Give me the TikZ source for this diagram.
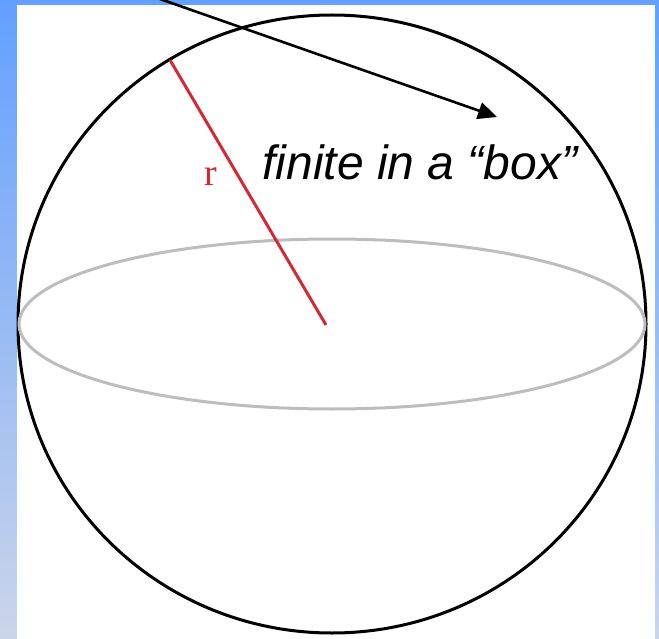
\documentclass[tikz,border=0pt]{standalone}
\usepackage{fontspec}
\setsansfont{Liberation Sans}
\newfontfamily\rserif{Liberation Serif}
\usetikzlibrary{arrows.meta}
\definecolor{bgtop}{HTML}{62A0FF}
\definecolor{bgbot}{HTML}{CBD5EA}
\definecolor{rline}{HTML}{D22A35}
\definecolor{eqgrey}{HTML}{BDBDBD}
\tikzset{
  sphereline/.style={draw=black, line width=3pt},
  equatorline/.style={draw=eqgrey, line width=3pt},
  radiusline/.style={draw=rline, line width=3pt},
  pointer/.style={draw=black, line width=2.6pt, -{Triangle[length=19pt,width=17pt]}},
  labeltext/.style={font=\sffamily\itshape\fontsize{48}{52}\selectfont, inner sep=0pt},
  rtext/.style={font=\rserif\fontsize{38}{42}\selectfont, text=rline, inner sep=0pt}
}
\begin{document}
\begin{tikzpicture}[x=1pt,y=-1pt]
\useasboundingbox (0,0) rectangle (659,639);
\shade[top color=bgtop, bottom color=bgbot] (0,0) rectangle (659,639);
\fill[white] (17,5) rectangle (655,639);
\coordinate (c) at (332,324);
\coordinate (rim) at (170,60);
\draw[sphereline] (c) ellipse [x radius=314, y radius=309];
\draw[equatorline] (c) ellipse [x radius=313, y radius=85];
\draw[radiusline] (rim) -- (326,325) coordinate (rend);
\node[rtext] (r) at (211,177) {r};
\coordinate (astart) at (160,-1);
\coordinate (aend) at (497,117);
\draw[pointer] (astart) -- (aend);
\node[labeltext] (lbl) at (420,162) {finite in a “box”};
\end{tikzpicture}
\end{document}
